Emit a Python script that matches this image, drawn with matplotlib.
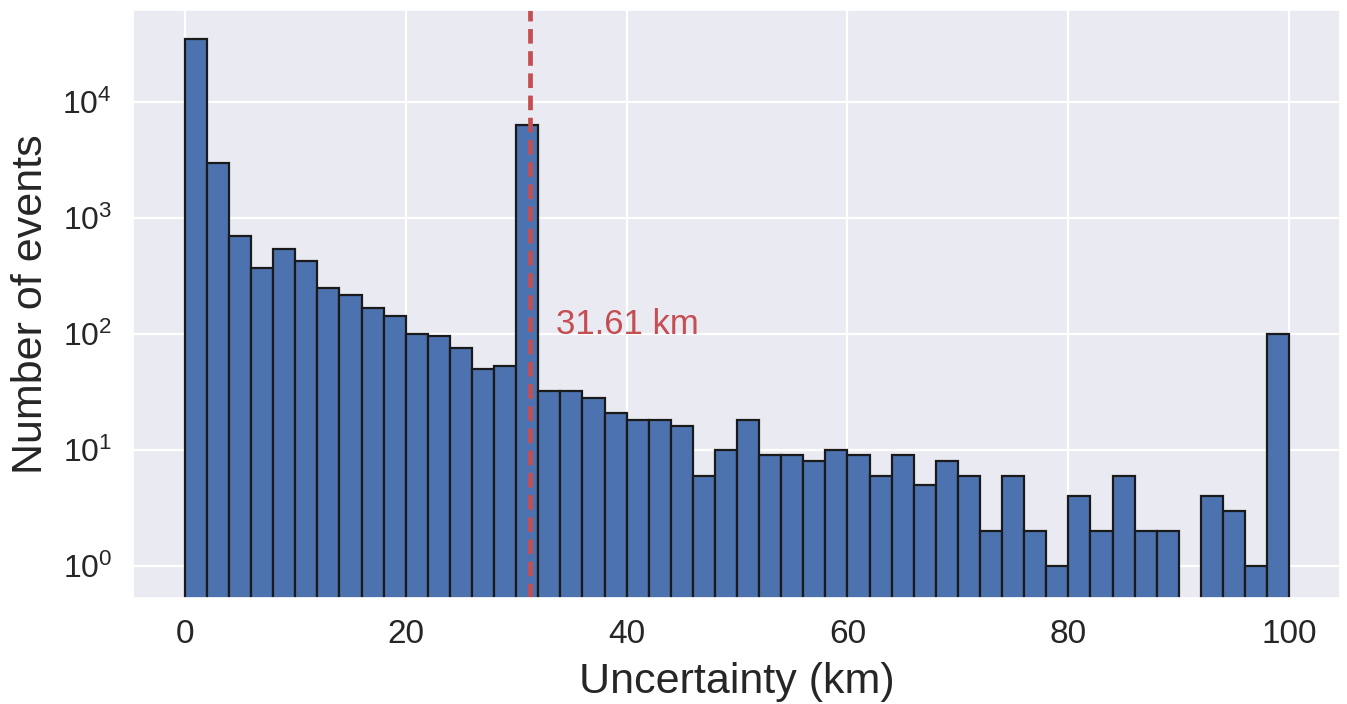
import matplotlib
matplotlib.use("Agg")
import matplotlib.pyplot as plt
import seaborn as sns

# histogram counts per 2 km bin (0-100 km)
bin_edges = list(range(0, 102, 2))
counts = [35000, 3000, 700, 370, 540, 425, 250, 215, 167, 143,
          100, 96, 75, 50, 53, 6300, 32, 32, 28, 21,
          18, 18, 16, 6, 10, 18, 9, 9, 8, 10,
          9, 6, 9, 5, 8, 6, 2, 6, 2, 1,
          4, 2, 6, 2, 2, 0, 4, 3, 1, 100]
line_pos = 31.25
label_km = "31.61"

sns.set_theme(style="darkgrid", color_codes=True)
plt.rcParams['font.family'] = ['Liberation Sans', 'DejaVu Sans']
plt.rcParams['mathtext.fontset'] = 'custom'
plt.rcParams['mathtext.rm'] = 'Liberation Sans'

fig = plt.figure(figsize=(13.47, 7.04), dpi=100)
ax = fig.add_axes([0.0987, 0.1506, 0.8961, 0.8352])

ax.hist(bin_edges[:-1], bins=bin_edges, weights=counts, log=True,
        color='b', edgecolor='#1a1a1a', linewidth=1.6)
ax.axvline(line_pos, color='r', linestyle='--', linewidth=3.4, dashes=(3.1, 1.6))
ax.text(line_pos + 2.4, 100, f"{label_km} km", color='r', fontsize=25)

ax.set_xlim(-4.7, 104.6)
ax.set_ylim(0.53, 6.2e4)
ax.set_xlabel("Uncertainty (km)", fontsize=31, labelpad=9)
ax.set_ylabel("Number of events", fontsize=31, labelpad=8)
ax.tick_params(axis='x', labelsize=24, pad=9)
ax.tick_params(axis='y', labelsize=23, pad=9)
ax.grid(True, which='major', color='white', linewidth=1.6)

fig.savefig("out.png", dpi=100)
